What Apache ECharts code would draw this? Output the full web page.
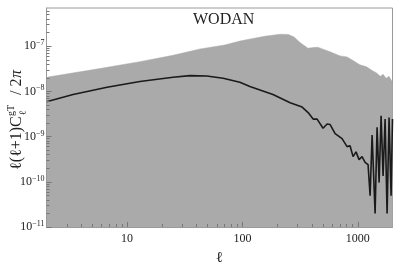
<!DOCTYPE html>
<html>
<head>
<meta charset="utf-8">
<script src="https://cdn.jsdelivr.net/npm/echarts@6/dist/echarts.min.js"></script>
<style>html,body{margin:0;padding:0;background:#fff}#c{width:407px;height:271px}</style>
</head>
<body>
<div id="c"></div>
<script>
// Upper envelope of the gray band
const envEll = [2, 5.8, 12.9, 25, 43, 70, 95, 156, 212, 250, 280, 316, 370, 410, 450, 500, 576, 704, 807, 910, 1040, 1190, 1331, 1443, 1570, 1657, 1760, 1867, 2000];
const envVal = [2.05e-8, 3.2e-8, 4.55e-8, 6.3e-8, 8.7e-8, 1.06e-7, 1.30e-7, 1.66e-7, 1.84e-7, 1.82e-7, 1.6e-7, 1.2e-7, 9.0e-8, 9.3e-8, 9.5e-8, 8.6e-8, 7.5e-8, 6.1e-8, 5.8e-8, 4.8e-8, 3.9e-8, 3.5e-8, 2.9e-8, 2.6e-8, 2.15e-8, 2.4e-8, 1.95e-8, 2.15e-8, 1.6e-8];
// Black curve
const lineEll = [2, 3.4, 6.7, 12.9, 25, 35, 49, 68, 95, 116, 184, 259, 329, 371, 410, 444, 500, 542, 576, 636, 731, 807, 857, 910, 966, 1026, 1089, 1157, 1228, 1279, 1331, 1413, 1470, 1531, 1593, 1657, 1725, 1795, 1867, 1944, 2000];
const lineVal = [5.9e-9, 8.5e-9, 1.23e-8, 1.66e-8, 2.05e-8, 2.23e-8, 2.19e-8, 1.95e-8, 1.60e-8, 1.29e-8, 8.5e-9, 5.6e-9, 4.5e-9, 3.4e-9, 2.44e-9, 2.44e-9, 1.53e-9, 1.90e-9, 1.85e-9, 1.16e-9, 9.0e-10, 6.0e-10, 6.3e-10, 3.6e-10, 4.6e-10, 3.1e-10, 3.6e-10, 2.7e-10, 2.4e-10, 4.9e-11, 1.08e-9, 2.0e-11, 1.6e-9, 9.6e-11, 2.9e-9, 1.34e-10, 2.44e-9, 2.0e-11, 2.65e-9, 4.9e-11, 2.44e-9];
// Ticks
const xMajor = [10, 100, 1000];
const xMinor = [3, 4, 5, 6, 7, 8, 9, 20, 30, 40, 50, 60, 70, 80, 90, 200, 300, 400, 500, 600, 700, 800, 900];
const yMajor = [1e-11, 1e-10, 1e-9, 1e-8, 1e-7];
const yMinor = [];
for (const d of [1e-11, 1e-10, 1e-9, 1e-8, 1e-7]) for (let k = 2; k <= 9; k++) if (k * d < 7e-7) yMinor.push(k * d);

const serif = '"Liberation Serif", "Times New Roman", serif';
const chart = echarts.init(document.getElementById('c'), null, {renderer: 'canvas'});
const xBase = {type: 'log', min: 2, max: 2000, gridIndex: 0, position: 'bottom', z: 10, splitLine: {show: false}};
const yBase = {type: 'log', min: 1e-11, max: 7e-7, gridIndex: 0, position: 'left', z: 10, splitLine: {show: false}};
chart.setOption({
  animation: false,
  grid: {left: 46.5, right: 14.5, top: 8, bottom: 39, show: true, borderColor: '#9a9a9a', borderWidth: 1, backgroundColor: 'transparent'},
  title: {text: 'WODAN', left: 193, top: 12, padding: 0, textStyle: {fontFamily: serif, fontSize: 16, fontWeight: 'normal', color: '#222'}},
  xAxis: [
    Object.assign({}, xBase, {
      axisLine: {show: true, lineStyle: {color: '#9a9a9a'}},
      axisTick: {show: true, inside: true, length: 5, customValues: xMajor, lineStyle: {color: '#777'}},
      axisLabel: {show: true, customValues: xMajor, margin: 6, fontFamily: serif, fontSize: 12, color: '#222',
        formatter: v => String(Math.round(v))},
      name: 'ℓ', nameLocation: 'middle', nameGap: 24, nameTextStyle: {fontFamily: serif, fontSize: 15, color: '#222'}
    }),
    Object.assign({}, xBase, {
      axisLine: {show: false},
      axisTick: {show: true, inside: true, length: 3, customValues: xMinor, lineStyle: {color: '#777'}},
      axisLabel: {show: false}
    })
  ],
  yAxis: [
    Object.assign({}, yBase, {
      axisLine: {show: true, lineStyle: {color: '#9a9a9a'}},
      axisTick: {show: true, inside: true, length: 5, customValues: yMajor, lineStyle: {color: '#777'}},
      axisLabel: {
        show: true, customValues: yMajor, margin: 2,
        formatter: v => '{b|10}{s|' + '\u2212' + Math.abs(Math.round(Math.log10(v))) + '}',
        rich: {
          b: {fontFamily: serif, fontSize: 12, color: '#222'},
          s: {fontFamily: serif, fontSize: 8, color: '#222', verticalAlign: 'top', padding: [0, 0, 6, 0]}
        }
      }
    }),
    Object.assign({}, yBase, {
      axisLine: {show: false},
      axisTick: {show: true, inside: true, length: 3, customValues: yMinor, lineStyle: {color: '#777'}},
      axisLabel: {show: false}
    })
  ],
  graphic: [{
    type: 'group', x: 17, y: 170, rotation: Math.PI / 2,
    children: [
      {type: 'text', x: 0, y: 0, style: {text: 'ℓ(ℓ+1)C', font: '16px ' + serif, fill: '#222', verticalAlign: 'middle', align: 'left'}},
      {type: 'text', x: 54, y: -6, style: {text: 'gT', font: '10px ' + serif, fill: '#222', verticalAlign: 'middle', align: 'left'}},
      {type: 'text', x: 55, y: 6, style: {text: 'ℓ', font: '10px ' + serif, fill: '#222', verticalAlign: 'middle', align: 'left'}},
      {type: 'text', x: 75, y: 0, style: {text: '/ 2', font: '16px ' + serif, fill: '#222', verticalAlign: 'middle', align: 'left'}},
      {type: 'text', x: 92, y: 0, style: {text: 'π', font: 'italic 16px ' + serif, fill: '#222', verticalAlign: 'middle', align: 'left'}}
    ]
  }],
  series: [
    {
      type: 'line', xAxisIndex: 0, yAxisIndex: 0, symbol: 'none', silent: true,
      data: envEll.map((l, i) => [l, envVal[i]]),
      lineStyle: {width: 0.5, color: '#aaaaaa'},
      areaStyle: {color: '#aaaaaa', opacity: 1, origin: 'start'},
      z: 2
    },
    {
      type: 'line', xAxisIndex: 0, yAxisIndex: 0, symbol: 'none', silent: true,
      data: lineEll.map((l, i) => [l, lineVal[i]]),
      lineStyle: {width: 1.6, color: '#1a1a1a'},
      z: 3
    }
  ]
});
</script>
</body>
</html>
